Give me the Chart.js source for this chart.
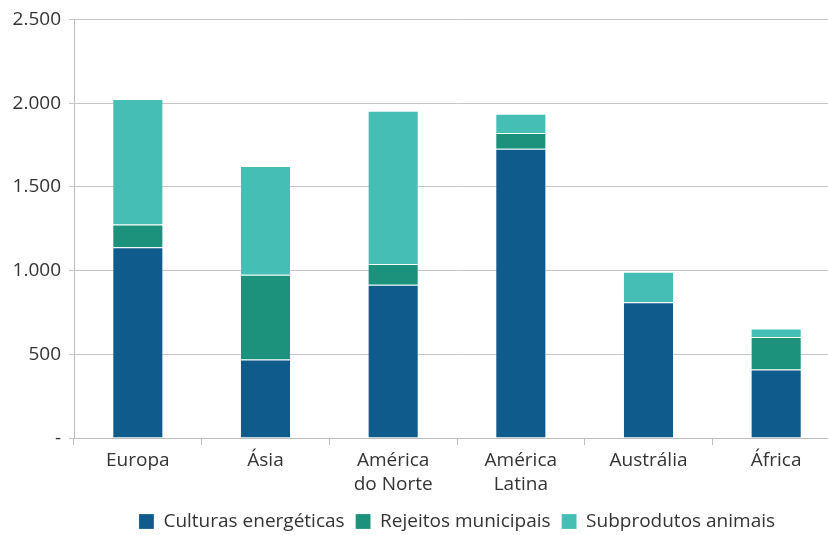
<!DOCTYPE html>
<html>
<head>
<meta charset="utf-8">
<script src="https://cdn.jsdelivr.net/npm/chart.js@4.4.0/dist/chart.umd.min.js"></script>
<style>
    body { margin: 0; overflow: hidden; background: #fff; }
    #wrap { width: 840px; height: 535px; position: relative; }
</style>
</head>
<body>
<div id="wrap"><canvas id="myChart"></canvas></div>
<script>
// regiões e valores
const regioes = ['Europa', 'Ásia', ['América', 'do Norte'], ['América', 'Latina'], 'Austrália', 'África'];
const culturas = [1140, 470, 915, 1728, 811, 410];
const rejeitos = [135, 505, 125, 93, 0, 193];
const subprodutos = [750, 650, 915, 115, 183, 52];
const yTicks = [0, 500, 1000, 1500, 2000, 2500];

window.onload = function() {
    let ctx = document.getElementById('myChart').getContext('2d');
    let fonte = "'Open Sans', sans-serif";

    function formatar(v) {
        if (v === 0) return '-';
        return v.toLocaleString('pt-BR');
    }

    new Chart(ctx, {
        type: 'bar',
        data: {
            labels: regioes,
            datasets: [
                { label: 'Culturas energéticas', data: culturas, backgroundColor: '#0f5b8b' },
                { label: 'Rejeitos municipais', data: rejeitos, backgroundColor: '#1c917b' },
                { label: 'Subprodutos animais', data: subprodutos, backgroundColor: '#45bfb5' }
            ]
        },
        options: {
            responsive: true,
            maintainAspectRatio: false,
            animation: false,
            layout: { padding: { top: 8, bottom: -6, left: 0, right: 0 } },
            datasets: {
                bar: {
                    barPercentage: 0.8,
                    categoryPercentage: 0.5,
                    borderWidth: 1,
                    borderColor: 'rgba(255,255,255,0.2)'
                }
            },
            scales: {
                x: {
                    stacked: true,
                    border: { color: '#bdbdbd', width: 1 },
                    grid: { drawOnChartArea: false, tickLength: 7, color: '#bdbdbd', offset: true },
                    ticks: { color: '#333', font: { family: fonte, size: 19, lineHeight: 1.26 }, padding: 4, maxRotation: 0 }
                },
                y: {
                    stacked: true,
                    min: 0,
                    max: 2500,
                    afterBuildTicks: function(scale) {
                        scale.ticks = yTicks.map(v => ({ value: v }));
                    },
                    afterFit: function(scale) { scale.width = 74; },
                    border: { color: '#bdbdbd', width: 1 },
                    grid: { color: '#c4c4c4', tickLength: 5 },
                    ticks: {
                        color: '#333',
                        font: { family: fonte, size: 19 },
                        padding: 8,
                        callback: function(v) { return formatar(v); }
                    }
                }
            },
            plugins: {
                tooltip: { enabled: false },
                legend: {
                    position: 'bottom',
                    fullSize: false,
                    labels: {
                        color: '#333',
                        boxWidth: 15,
                        boxHeight: 15,
                        padding: 11,
                        font: { family: fonte, size: 19, lineHeight: 0.79 }
                    }
                }
            }
        }
    });
};
</script>
</body>
</html>
